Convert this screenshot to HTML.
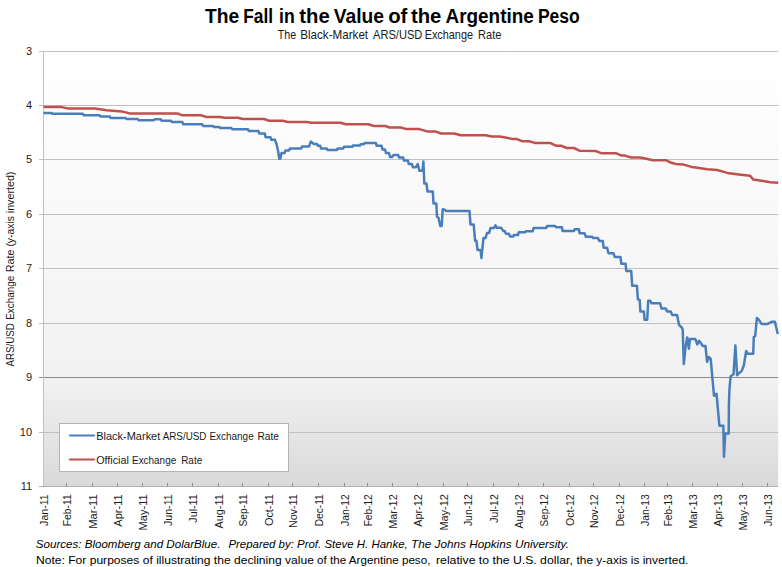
<!DOCTYPE html>
<html><head><meta charset="utf-8"><title>The Fall in the Value of the Argentine Peso</title>
<style>
html,body{margin:0;padding:0;background:#ffffff;width:782px;height:567px;overflow:hidden;}
svg{display:block;white-space:pre;font-family:"Liberation Sans", sans-serif;}
</style></head><body>
<svg width="782" height="567" viewBox="0 0 782 567">
<defs><linearGradient id="g" x1="0" y1="0" x2="0" y2="1"><stop offset="0" stop-color="#ffffff"/><stop offset="0.75" stop-color="#f2f2f2"/><stop offset="1" stop-color="#d9d9d9"/></linearGradient></defs>
<rect x="43.5" y="51.5" width="734.7" height="435.0" fill="url(#g)"/>
<line x1="39" y1="51.5" x2="778.2" y2="51.5" stroke="#c0c0c0" stroke-width="1"/>
<line x1="39" y1="105.5" x2="778.2" y2="105.5" stroke="#c0c0c0" stroke-width="1"/>
<line x1="39" y1="159.5" x2="778.2" y2="159.5" stroke="#c0c0c0" stroke-width="1"/>
<line x1="39" y1="214.5" x2="778.2" y2="214.5" stroke="#c0c0c0" stroke-width="1"/>
<line x1="39" y1="268.5" x2="778.2" y2="268.5" stroke="#c0c0c0" stroke-width="1"/>
<line x1="39" y1="323.5" x2="778.2" y2="323.5" stroke="#c0c0c0" stroke-width="1"/>
<line x1="39" y1="377.5" x2="778.2" y2="377.5" stroke="#8c8c8c" stroke-width="1"/>
<line x1="39" y1="432.5" x2="778.2" y2="432.5" stroke="#c0c0c0" stroke-width="1"/>
<line x1="43.5" y1="51" x2="43.5" y2="487" stroke="#c0c0c0" stroke-width="1"/>
<line x1="39" y1="486.5" x2="778.2" y2="486.5" stroke="#b0b0b0" stroke-width="1"/>
<line x1="66.5" y1="483" x2="66.5" y2="486" stroke="#8c8c8c" stroke-width="1"/>
<line x1="92.5" y1="483" x2="92.5" y2="486" stroke="#8c8c8c" stroke-width="1"/>
<line x1="117.5" y1="483" x2="117.5" y2="486" stroke="#8c8c8c" stroke-width="1"/>
<line x1="142.5" y1="483" x2="142.5" y2="486" stroke="#8c8c8c" stroke-width="1"/>
<line x1="167.5" y1="483" x2="167.5" y2="486" stroke="#8c8c8c" stroke-width="1"/>
<line x1="192.5" y1="483" x2="192.5" y2="486" stroke="#8c8c8c" stroke-width="1"/>
<line x1="218.5" y1="483" x2="218.5" y2="486" stroke="#8c8c8c" stroke-width="1"/>
<line x1="242.5" y1="483" x2="242.5" y2="486" stroke="#8c8c8c" stroke-width="1"/>
<line x1="268.5" y1="483" x2="268.5" y2="486" stroke="#8c8c8c" stroke-width="1"/>
<line x1="292.5" y1="483" x2="292.5" y2="486" stroke="#8c8c8c" stroke-width="1"/>
<line x1="318.5" y1="483" x2="318.5" y2="486" stroke="#8c8c8c" stroke-width="1"/>
<line x1="344.5" y1="483" x2="344.5" y2="486" stroke="#8c8c8c" stroke-width="1"/>
<line x1="367.5" y1="483" x2="367.5" y2="486" stroke="#8c8c8c" stroke-width="1"/>
<line x1="392.5" y1="483" x2="392.5" y2="486" stroke="#8c8c8c" stroke-width="1"/>
<line x1="417.5" y1="483" x2="417.5" y2="486" stroke="#8c8c8c" stroke-width="1"/>
<line x1="443.5" y1="483" x2="443.5" y2="486" stroke="#8c8c8c" stroke-width="1"/>
<line x1="467.5" y1="483" x2="467.5" y2="486" stroke="#8c8c8c" stroke-width="1"/>
<line x1="493.5" y1="483" x2="493.5" y2="486" stroke="#8c8c8c" stroke-width="1"/>
<line x1="518.5" y1="483" x2="518.5" y2="486" stroke="#8c8c8c" stroke-width="1"/>
<line x1="543.5" y1="483" x2="543.5" y2="486" stroke="#8c8c8c" stroke-width="1"/>
<line x1="569.5" y1="483" x2="569.5" y2="486" stroke="#8c8c8c" stroke-width="1"/>
<line x1="593.5" y1="483" x2="593.5" y2="486" stroke="#8c8c8c" stroke-width="1"/>
<line x1="619.5" y1="483" x2="619.5" y2="486" stroke="#8c8c8c" stroke-width="1"/>
<line x1="644.5" y1="483" x2="644.5" y2="486" stroke="#8c8c8c" stroke-width="1"/>
<line x1="667.5" y1="483" x2="667.5" y2="486" stroke="#8c8c8c" stroke-width="1"/>
<line x1="692.5" y1="483" x2="692.5" y2="486" stroke="#8c8c8c" stroke-width="1"/>
<line x1="717.5" y1="483" x2="717.5" y2="486" stroke="#8c8c8c" stroke-width="1"/>
<line x1="742.5" y1="483" x2="742.5" y2="486" stroke="#8c8c8c" stroke-width="1"/>
<line x1="767.5" y1="483" x2="767.5" y2="486" stroke="#8c8c8c" stroke-width="1"/>
<polyline points="43.5,107.1 61.7,107.1 67.5,108.4 95.0,108.4 106.5,110.3 121.8,111.4 129.5,113.4 177.3,113.4 182.4,115.3 201.0,115.3 206.0,116.9 219.5,116.9 224.6,117.8 237.9,117.8 242.4,119.0 264.0,119.0 269.0,120.7 282.7,120.7 287.8,122.0 307.0,122.0 311.4,122.8 340.7,122.8 345.8,124.3 368.2,124.3 374.0,126.0 385.4,126.0 389.3,127.5 400.8,127.5 406.4,129.1 419.2,129.1 428.1,131.6 435.8,131.6 440.9,133.5 454.3,133.5 460.7,135.2 485.7,135.2 492.0,136.5 499.6,136.5 505.3,137.5 513.0,139.1 516.9,139.1 522.0,141.2 529.0,141.2 534.8,142.9 550.1,142.9 556.5,145.8 561.6,145.8 566.7,148.0 573.8,148.0 579.5,150.7 595.3,150.9 601.1,153.2 615.8,153.2 621.6,155.6 624.8,155.6 631.2,157.5 640.1,157.5 645.2,158.5 652.9,160.2 665.7,160.2 671.4,162.8 675.7,163.9 683.6,164.6 691.5,166.9 695.8,167.5 707.2,169.3 717.3,170.0 727.3,172.9 738.8,174.4 750.2,175.8 753.1,179.4 761.7,180.8 770.3,182.2 778.2,182.7" fill="none" stroke="#c0504d" stroke-width="2.5" stroke-linejoin="round" stroke-linecap="butt"/>
<polyline points="43.5,112.9 51.5,112.9 52.3,113.8 82.8,113.8 83.6,115.2 99.5,115.2 100.3,116.4 109.7,116.4 110.5,118.0 125.7,118.0 126.5,119.0 137.8,119.0 138.5,120.2 153.7,120.2 154.5,119.2 160.7,119.2 161.5,120.7 171.0,120.7 172.0,122.1 182.4,122.1 183.2,124.3 202.3,124.3 203.1,126.0 213.0,126.0 213.8,127.1 219.5,127.1 220.3,128.1 231.5,128.1 232.3,129.3 248.0,129.3 248.8,131.0 258.4,131.0 259.2,133.4 264.8,133.4 265.6,137.2 270.5,137.2 271.3,139.8 275.0,139.8 276.5,144.0 278.0,150.5 279.3,158.7 280.3,158.7 281.5,153.0 284.5,153.0 285.5,150.4 289.0,150.4 290.0,148.5 301.2,148.5 302.0,146.6 308.9,146.6 310.8,141.6 313.8,143.9 317.0,143.9 317.8,145.8 320.2,145.8 321.0,148.4 326.6,148.4 327.4,149.9 336.9,149.9 337.7,148.4 343.2,148.4 344.0,146.8 352.2,146.8 353.0,145.5 359.9,145.5 360.7,144.3 363.7,144.3 364.5,143.0 375.9,143.0 376.7,145.8 381.6,145.8 382.5,149.5 385.0,149.5 386.0,153.0 389.0,153.0 390.0,157.0 392.0,157.0 393.5,155.0 398.2,155.0 399.0,157.4 403.1,157.4 404.0,160.6 407.9,160.6 408.8,164.1 411.9,164.1 412.8,167.2 415.9,167.2 417.7,164.1 419.4,170.7 422.5,170.7 423.4,161.5 424.3,183.5 426.5,183.5 427.5,191.6 432.8,191.6 433.5,203.4 436.3,203.4 437.0,216.8 438.4,217.5 440.3,226.0 441.7,226.0 442.7,209.3 444.8,209.7 446.2,211.1 469.5,211.1 470.5,224.5 473.7,224.5 475.1,240.8 476.5,240.8 477.5,250.0 480.6,250.0 481.4,258.0 483.5,238.0 485.6,238.0 487.0,233.0 489.1,233.0 490.5,228.1 494.0,228.1 495.5,225.3 496.9,227.8 501.1,227.8 503.2,230.9 504.6,230.9 506.0,233.7 508.9,233.7 510.3,236.6 513.1,236.6 513.8,235.1 518.0,235.1 518.7,232.3 525.0,232.3 525.8,231.2 532.8,231.2 533.6,228.1 546.2,228.1 547.0,226.1 554.9,226.1 556.3,227.2 561.9,227.2 562.6,231.0 573.9,231.0 574.6,229.3 578.9,229.3 579.6,233.2 584.5,233.2 585.9,236.7 592.3,236.7 593.0,238.1 597.9,238.1 599.3,240.9 602.8,240.9 603.6,247.7 607.1,247.7 608.5,253.3 613.4,253.3 614.8,257.1 620.5,257.1 621.3,263.8 625.6,263.8 626.3,270.9 631.2,270.9 632.2,285.7 636.9,285.7 637.9,299.4 639.7,300.0 640.4,311.4 643.9,311.4 644.6,319.8 647.2,319.8 648.2,300.8 650.3,300.8 651.4,303.3 660.1,303.3 661.6,308.6 665.8,308.6 667.2,311.4 670.7,311.4 672.1,314.9 677.1,314.9 679.0,324.8 681.7,327.5 682.7,329.6 683.8,364.0 685.4,348.1 687.2,337.5 688.9,348.7 689.9,339.1 695.4,339.1 697.3,344.4 699.1,340.7 702.8,346.0 705.5,346.0 707.1,361.9 708.7,357.0 710.7,358.9 714.0,395.7 716.5,393.8 719.4,425.7 723.3,425.7 724.0,456.7 725.2,433.5 728.7,433.5 728.9,405.0 729.4,390.0 730.6,376.3 733.5,374.3 735.4,345.5 737.1,375.2 741.9,370.6 743.9,365.0 746.2,350.9 747.6,353.7 753.2,353.7 753.8,336.8 755.2,336.0 756.9,317.9 758.9,319.9 761.7,324.1 767.3,324.1 771.5,321.8 774.9,321.8 777.8,334.0" fill="none" stroke="#4a7ebb" stroke-width="2.5" stroke-linejoin="round" stroke-linecap="butt"/>
<rect x="59.5" y="423.5" width="229" height="48" fill="#ffffff" stroke="#b4b4b4" stroke-width="1"/>
<line x1="70" y1="435.5" x2="94" y2="435.5" stroke="#4a7ebb" stroke-width="2.2" stroke-linecap="round"/>
<line x1="70" y1="459.5" x2="94" y2="459.5" stroke="#c0504d" stroke-width="2.2" stroke-linecap="round"/>
<text x="96.2" y="439.5" font-size="10.5" fill="#1a1a1a" textLength="64.1" lengthAdjust="spacingAndGlyphs">Black-Market</text><text x="162.7" y="439.5" font-size="10.5" fill="#1a1a1a" textLength="43.7" lengthAdjust="spacingAndGlyphs">ARS/USD</text><text x="209.4" y="439.5" font-size="10.5" fill="#1a1a1a" textLength="44.3" lengthAdjust="spacingAndGlyphs">Exchange</text><text x="257.4" y="439.5" font-size="10.5" fill="#1a1a1a" textLength="21.5" lengthAdjust="spacingAndGlyphs">Rate</text>
<text x="96.2" y="463.5" font-size="10.5" fill="#1a1a1a" textLength="32.7" lengthAdjust="spacingAndGlyphs">Official</text><text x="132.0" y="463.5" font-size="10.5" fill="#1a1a1a" textLength="44.2" lengthAdjust="spacingAndGlyphs">Exchange</text><text x="181.2" y="463.5" font-size="10.5" fill="#1a1a1a" textLength="21.0" lengthAdjust="spacingAndGlyphs">Rate</text>
<text x="32.1" y="54.7" font-size="11" text-anchor="end" fill="#1a1a1a">3</text>
<text x="32.1" y="108.7" font-size="11" text-anchor="end" fill="#1a1a1a">4</text>
<text x="32.1" y="162.7" font-size="11" text-anchor="end" fill="#1a1a1a">5</text>
<text x="32.1" y="217.7" font-size="11" text-anchor="end" fill="#1a1a1a">6</text>
<text x="32.1" y="271.7" font-size="11" text-anchor="end" fill="#1a1a1a">7</text>
<text x="32.1" y="326.7" font-size="11" text-anchor="end" fill="#1a1a1a">8</text>
<text x="32.1" y="380.7" font-size="11" text-anchor="end" fill="#1a1a1a">9</text>
<text x="32.1" y="435.7" font-size="11" text-anchor="end" fill="#1a1a1a">10</text>
<text x="32.1" y="489.7" font-size="11" text-anchor="end" fill="#1a1a1a">11</text>
<g transform="translate(13.6,366.6) rotate(-90)"><text x="0.0" y="0" font-size="10.8" fill="#1a1a1a" textLength="43.4" lengthAdjust="spacingAndGlyphs">ARS/USD</text><text x="46.9" y="0" font-size="10.8" fill="#1a1a1a" textLength="43.9" lengthAdjust="spacingAndGlyphs">Exchange</text><text x="94.3" y="0" font-size="10.8" fill="#1a1a1a" textLength="22.7" lengthAdjust="spacingAndGlyphs">Rate</text><text x="120.0" y="0" font-size="10.8" fill="#1a1a1a" textLength="30.4" lengthAdjust="spacingAndGlyphs">(y-axis</text><text x="153.4" y="0" font-size="10.8" fill="#1a1a1a" textLength="41.6" lengthAdjust="spacingAndGlyphs">inverted)</text></g>
<text transform="translate(48.0,494.3) rotate(-90)" x="0" y="0" font-size="11" text-anchor="end" fill="#1a1a1a" textLength="31.6" lengthAdjust="spacingAndGlyphs">Jan-11</text>
<text transform="translate(71.1,494.3) rotate(-90)" x="0" y="0" font-size="11" text-anchor="end" fill="#1a1a1a" textLength="32.0" lengthAdjust="spacingAndGlyphs">Feb-11</text>
<text transform="translate(97.0,494.3) rotate(-90)" x="0" y="0" font-size="11" text-anchor="end" fill="#1a1a1a" textLength="34.5" lengthAdjust="spacingAndGlyphs">Mar-11</text>
<text transform="translate(122.0,494.3) rotate(-90)" x="0" y="0" font-size="11" text-anchor="end" fill="#1a1a1a" textLength="32.4" lengthAdjust="spacingAndGlyphs">Apr-11</text>
<text transform="translate(146.9,494.3) rotate(-90)" x="0" y="0" font-size="11" text-anchor="end" fill="#1a1a1a" textLength="36.2" lengthAdjust="spacingAndGlyphs">May-11</text>
<text transform="translate(171.8,494.3) rotate(-90)" x="0" y="0" font-size="11" text-anchor="end" fill="#1a1a1a" textLength="31.8" lengthAdjust="spacingAndGlyphs">Jun-11</text>
<text transform="translate(197.0,494.3) rotate(-90)" x="0" y="0" font-size="11" text-anchor="end" fill="#1a1a1a" textLength="28.4" lengthAdjust="spacingAndGlyphs">Jul-11</text>
<text transform="translate(223.0,494.3) rotate(-90)" x="0" y="0" font-size="11" text-anchor="end" fill="#1a1a1a" textLength="34.2" lengthAdjust="spacingAndGlyphs">Aug-11</text>
<text transform="translate(246.9,494.3) rotate(-90)" x="0" y="0" font-size="11" text-anchor="end" fill="#1a1a1a" textLength="32.2" lengthAdjust="spacingAndGlyphs">Sep-11</text>
<text transform="translate(273.0,494.3) rotate(-90)" x="0" y="0" font-size="11" text-anchor="end" fill="#1a1a1a" textLength="31.7" lengthAdjust="spacingAndGlyphs">Oct-11</text>
<text transform="translate(297.0,494.3) rotate(-90)" x="0" y="0" font-size="11" text-anchor="end" fill="#1a1a1a" textLength="33.8" lengthAdjust="spacingAndGlyphs">Nov-11</text>
<text transform="translate(323.0,494.3) rotate(-90)" x="0" y="0" font-size="11" text-anchor="end" fill="#1a1a1a" textLength="32.0" lengthAdjust="spacingAndGlyphs">Dec-11</text>
<text transform="translate(349.1,494.3) rotate(-90)" x="0" y="0" font-size="11" text-anchor="end" fill="#1a1a1a" textLength="31.6" lengthAdjust="spacingAndGlyphs">Jan-12</text>
<text transform="translate(371.8,494.3) rotate(-90)" x="0" y="0" font-size="11" text-anchor="end" fill="#1a1a1a" textLength="32.0" lengthAdjust="spacingAndGlyphs">Feb-12</text>
<text transform="translate(397.0,494.3) rotate(-90)" x="0" y="0" font-size="11" text-anchor="end" fill="#1a1a1a" textLength="34.5" lengthAdjust="spacingAndGlyphs">Mar-12</text>
<text transform="translate(422.0,494.3) rotate(-90)" x="0" y="0" font-size="11" text-anchor="end" fill="#1a1a1a" textLength="32.4" lengthAdjust="spacingAndGlyphs">Apr-12</text>
<text transform="translate(448.1,494.3) rotate(-90)" x="0" y="0" font-size="11" text-anchor="end" fill="#1a1a1a" textLength="36.2" lengthAdjust="spacingAndGlyphs">May-12</text>
<text transform="translate(471.8,494.3) rotate(-90)" x="0" y="0" font-size="11" text-anchor="end" fill="#1a1a1a" textLength="31.8" lengthAdjust="spacingAndGlyphs">Jun-12</text>
<text transform="translate(498.1,494.3) rotate(-90)" x="0" y="0" font-size="11" text-anchor="end" fill="#1a1a1a" textLength="28.4" lengthAdjust="spacingAndGlyphs">Jul-12</text>
<text transform="translate(523.0,494.3) rotate(-90)" x="0" y="0" font-size="11" text-anchor="end" fill="#1a1a1a" textLength="34.2" lengthAdjust="spacingAndGlyphs">Aug-12</text>
<text transform="translate(548.1,494.3) rotate(-90)" x="0" y="0" font-size="11" text-anchor="end" fill="#1a1a1a" textLength="32.2" lengthAdjust="spacingAndGlyphs">Sep-12</text>
<text transform="translate(574.0,494.3) rotate(-90)" x="0" y="0" font-size="11" text-anchor="end" fill="#1a1a1a" textLength="31.7" lengthAdjust="spacingAndGlyphs">Oct-12</text>
<text transform="translate(598.1,494.3) rotate(-90)" x="0" y="0" font-size="11" text-anchor="end" fill="#1a1a1a" textLength="33.8" lengthAdjust="spacingAndGlyphs">Nov-12</text>
<text transform="translate(624.1,494.3) rotate(-90)" x="0" y="0" font-size="11" text-anchor="end" fill="#1a1a1a" textLength="32.0" lengthAdjust="spacingAndGlyphs">Dec-12</text>
<text transform="translate(649.1,494.3) rotate(-90)" x="0" y="0" font-size="11" text-anchor="end" fill="#1a1a1a" textLength="31.6" lengthAdjust="spacingAndGlyphs">Jan-13</text>
<text transform="translate(671.8,494.3) rotate(-90)" x="0" y="0" font-size="11" text-anchor="end" fill="#1a1a1a" textLength="32.0" lengthAdjust="spacingAndGlyphs">Feb-13</text>
<text transform="translate(697.3,494.3) rotate(-90)" x="0" y="0" font-size="11" text-anchor="end" fill="#1a1a1a" textLength="34.5" lengthAdjust="spacingAndGlyphs">Mar-13</text>
<text transform="translate(722.3,494.3) rotate(-90)" x="0" y="0" font-size="11" text-anchor="end" fill="#1a1a1a" textLength="32.4" lengthAdjust="spacingAndGlyphs">Apr-13</text>
<text transform="translate(747.2,494.3) rotate(-90)" x="0" y="0" font-size="11" text-anchor="end" fill="#1a1a1a" textLength="36.2" lengthAdjust="spacingAndGlyphs">May-13</text>
<text transform="translate(772.3,494.3) rotate(-90)" x="0" y="0" font-size="11" text-anchor="end" fill="#1a1a1a" textLength="31.8" lengthAdjust="spacingAndGlyphs">Jun-13</text>
<text x="205.0" y="23.0" font-size="19.5" font-weight="bold" fill="#000" textLength="34.2" lengthAdjust="spacingAndGlyphs">The</text><text x="243.3" y="23.0" font-size="19.5" font-weight="bold" fill="#000" textLength="29.8" lengthAdjust="spacingAndGlyphs">Fall</text><text x="279.1" y="23.0" font-size="19.5" font-weight="bold" fill="#000" textLength="15.7" lengthAdjust="spacingAndGlyphs">in</text><text x="299.3" y="23.0" font-size="19.5" font-weight="bold" fill="#000" textLength="30.4" lengthAdjust="spacingAndGlyphs">the</text><text x="333.8" y="23.0" font-size="19.5" font-weight="bold" fill="#000" textLength="50.2" lengthAdjust="spacingAndGlyphs">Value</text><text x="388.2" y="23.0" font-size="19.5" font-weight="bold" fill="#000" textLength="19.2" lengthAdjust="spacingAndGlyphs">of</text><text x="410.9" y="23.0" font-size="19.5" font-weight="bold" fill="#000" textLength="30.4" lengthAdjust="spacingAndGlyphs">the</text><text x="445.5" y="23.0" font-size="19.5" font-weight="bold" fill="#000" textLength="88.3" lengthAdjust="spacingAndGlyphs">Argentine</text><text x="537.9" y="23.0" font-size="19.5" font-weight="bold" fill="#000" textLength="41.9" lengthAdjust="spacingAndGlyphs">Peso</text>
<text x="277.7" y="39.2" font-size="12.2" fill="#1a1a1a" textLength="18.4" lengthAdjust="spacingAndGlyphs">The</text><text x="300.2" y="39.2" font-size="12.2" fill="#1a1a1a" textLength="67.9" lengthAdjust="spacingAndGlyphs">Black-Market</text><text x="373.0" y="39.2" font-size="12.2" fill="#1a1a1a" textLength="49.3" lengthAdjust="spacingAndGlyphs">ARS/USD</text><text x="424.7" y="39.2" font-size="12.2" fill="#1a1a1a" textLength="48.3" lengthAdjust="spacingAndGlyphs">Exchange</text><text x="478.1" y="39.2" font-size="12.2" fill="#1a1a1a" textLength="23.3" lengthAdjust="spacingAndGlyphs">Rate</text>
<text x="35.8" y="548.0" font-size="11.3" font-style="italic" fill="#000" textLength="184.6" lengthAdjust="spacingAndGlyphs">Sources: Bloomberg and DolarBlue.</text><text x="228.4" y="548.0" font-size="11.3" font-style="italic" fill="#000" textLength="179.3" lengthAdjust="spacingAndGlyphs">Prepared by: Prof. Steve H. Hanke,</text><text x="411.0" y="548.0" font-size="11.3" font-style="italic" fill="#000" textLength="157.9" lengthAdjust="spacingAndGlyphs">The Johns Hopkins University.</text>
<text x="36.0" y="564.0" font-size="11.3" fill="#000" textLength="277.9" lengthAdjust="spacingAndGlyphs">Note: For purposes of illustrating the declining value</text><text x="317.1" y="564.0" font-size="11.3" fill="#000" textLength="113.3" lengthAdjust="spacingAndGlyphs">of the Argentine peso,</text><text x="436.0" y="564.0" font-size="11.3" fill="#000" textLength="136.8" lengthAdjust="spacingAndGlyphs">relative to the U.S. dollar,</text><text x="576.5" y="564.0" font-size="11.3" fill="#000" textLength="111.9" lengthAdjust="spacingAndGlyphs">the y-axis is inverted.</text>
</svg>
</body></html>
